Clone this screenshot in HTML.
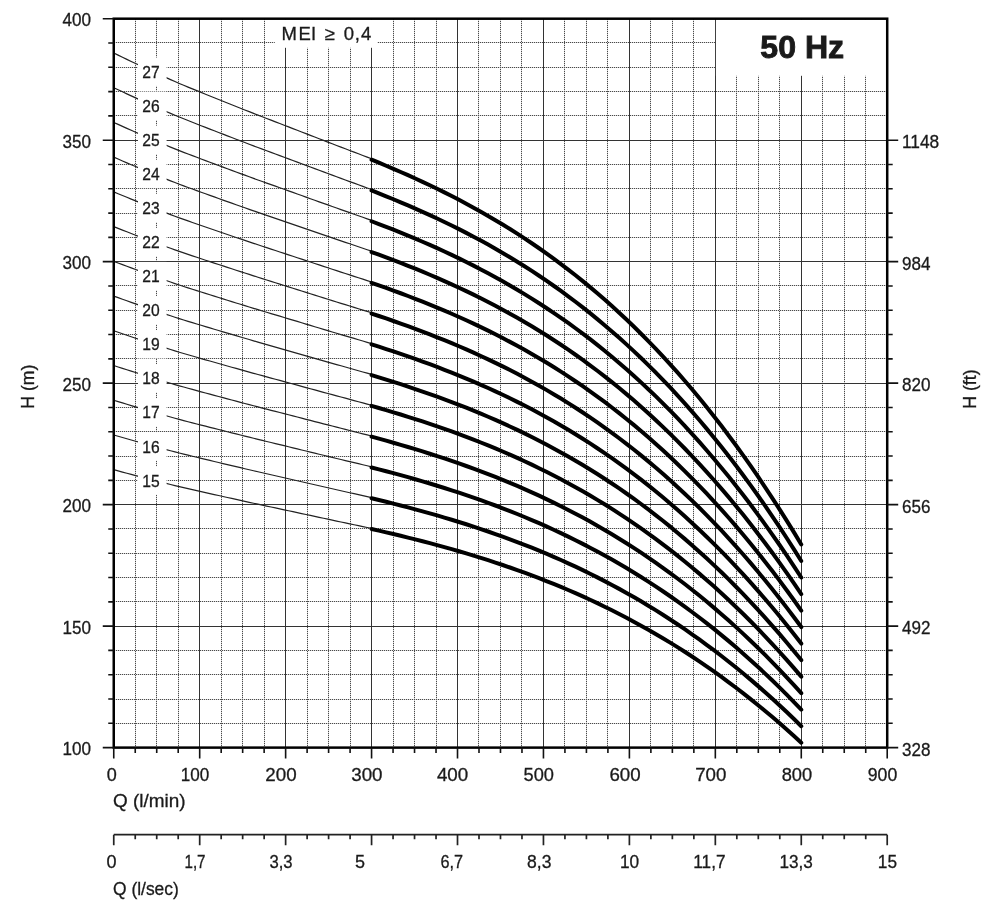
<!DOCTYPE html><html><head><meta charset="utf-8"><title>50 Hz pump curves</title>
<style>html,body{margin:0;padding:0;background:#fff;overflow:hidden}svg{display:block;will-change:transform}</style></head><body>
<svg width="997" height="905" viewBox="0 0 997 905" font-family="'Liberation Sans', Arial, sans-serif" fill="#1a1a1a">
<style>text{stroke:#1a1a1a;stroke-width:0.3px}</style>
<rect width="997" height="905" fill="#fff"/>
<path d="M135.50,19V747.61M156.50,19V747.61M178.50,19V747.61M221.50,19V747.61M242.50,19V747.61M264.50,19V747.61M307.50,19V747.61M328.50,19V747.61M350.50,19V747.61M393.50,19V747.61M414.50,19V747.61M436.50,19V747.61M478.50,19V747.61M500.50,19V747.61M521.50,19V747.61M564.50,19V747.61M586.50,19V747.61M607.50,19V747.61M650.50,19V747.61M672.50,19V747.61M693.50,19V747.61M736.50,19V747.61M758.50,19V747.61M779.50,19V747.61M822.50,19V747.61M844.50,19V747.61M865.50,19V747.61M114,723.50H887.21M114,699.50H887.21M114,674.50H887.21M114,650.50H887.21M114,601.50H887.21M114,577.50H887.21M114,553.50H887.21M114,528.50H887.21M114,480.50H887.21M114,456.50H887.21M114,431.50H887.21M114,407.50H887.21M114,358.50H887.21M114,334.50H887.21M114,310.50H887.21M114,285.50H887.21M114,237.50H887.21M114,213.50H887.21M114,188.50H887.21M114,164.50H887.21M114,115.50H887.21M114,91.50H887.21M114,67.50H887.21M114,42.50H887.21" stroke="#d6d6d6" stroke-width="1" fill="none"/>
<path d="M135.50,19V747.61M156.50,19V747.61M178.50,19V747.61M221.50,19V747.61M242.50,19V747.61M264.50,19V747.61M307.50,19V747.61M328.50,19V747.61M350.50,19V747.61M393.50,19V747.61M414.50,19V747.61M436.50,19V747.61M478.50,19V747.61M500.50,19V747.61M521.50,19V747.61M564.50,19V747.61M586.50,19V747.61M607.50,19V747.61M650.50,19V747.61M672.50,19V747.61M693.50,19V747.61M736.50,19V747.61M758.50,19V747.61M779.50,19V747.61M822.50,19V747.61M844.50,19V747.61M865.50,19V747.61M114,723.50H887.21M114,699.50H887.21M114,674.50H887.21M114,650.50H887.21M114,601.50H887.21M114,577.50H887.21M114,553.50H887.21M114,528.50H887.21M114,480.50H887.21M114,456.50H887.21M114,431.50H887.21M114,407.50H887.21M114,358.50H887.21M114,334.50H887.21M114,310.50H887.21M114,285.50H887.21M114,237.50H887.21M114,213.50H887.21M114,188.50H887.21M114,164.50H887.21M114,115.50H887.21M114,91.50H887.21M114,67.50H887.21M114,42.50H887.21" stroke="#4a4a4a" stroke-width="1" stroke-dasharray="1 1" fill="none"/>
<path d="M199.50,18.70V747.61M285.50,18.70V747.61M371.50,18.70V747.61M457.50,18.70V747.61M543.50,18.70V747.61M629.50,18.70V747.61M715.50,18.70V747.61M801.50,18.70V747.61M113.75,626.50H887.21M113.75,504.50H887.21M113.75,383.50H887.21M113.75,261.50H887.21M113.75,140.50H887.21" stroke="#333" stroke-width="1" fill="none"/>
<path d="M113.75,469.70 L118.12,470.89 L122.49,472.06 L126.86,473.23 L131.23,474.40 L135.60,475.55 L139.97,476.69 L144.34,477.83 L148.71,478.96 L153.08,480.08 L157.45,481.19 L161.82,482.30 L166.19,483.40 L170.56,484.49 L174.93,485.57 L179.30,486.61 L183.67,487.63 L188.04,488.64 L192.41,489.63 L196.78,490.62 L201.15,491.61 L205.52,492.59 L209.89,493.58 L214.26,494.56 L218.63,495.53 L223.00,496.51 L227.37,497.48 L231.74,498.45 L236.11,499.41 L240.48,500.38 L244.84,501.34 L249.21,502.30 L253.58,503.25 L257.95,504.20 L262.32,505.15 L266.69,506.09 L271.06,507.02 L275.43,507.95 L279.80,508.88 L284.17,509.81 L288.54,510.74 L292.91,511.68 L297.28,512.63 L301.65,513.57 L306.02,514.51 L310.39,515.45 L314.76,516.39 L319.13,517.33 L323.50,518.26 L327.87,519.20 L332.24,520.13 L336.61,521.06 L340.98,521.99 L345.35,522.91 L349.72,523.84 L354.09,524.77 L358.46,525.69 L362.83,526.61 L367.20,527.53 L371.57,528.45" stroke="#222" stroke-width="1.2" fill="none"/>
<path d="M113.75,434.98 L118.12,436.24 L122.49,437.50 L126.86,438.75 L131.23,439.98 L135.60,441.21 L139.97,442.43 L144.34,443.64 L148.71,444.85 L153.08,446.04 L157.45,447.23 L161.82,448.41 L166.19,449.58 L170.56,450.75 L174.93,451.90 L179.30,453.01 L183.67,454.10 L188.04,455.17 L192.41,456.23 L196.78,457.29 L201.15,458.34 L205.52,459.40 L209.89,460.44 L214.26,461.49 L218.63,462.53 L223.00,463.57 L227.37,464.60 L231.74,465.64 L236.11,466.67 L240.48,467.70 L244.84,468.72 L249.21,469.75 L253.58,470.77 L257.95,471.78 L262.32,472.79 L266.69,473.79 L271.06,474.78 L275.43,475.77 L279.80,476.76 L284.17,477.76 L288.54,478.75 L292.91,479.76 L297.28,480.76 L301.65,481.77 L306.02,482.77 L310.39,483.78 L314.76,484.78 L319.13,485.78 L323.50,486.78 L327.87,487.77 L332.24,488.76 L336.61,489.76 L340.98,490.75 L345.35,491.74 L349.72,492.73 L354.09,493.71 L358.46,494.70 L362.83,495.68 L367.20,496.66 L371.57,497.64" stroke="#222" stroke-width="1.2" fill="none"/>
<path d="M113.75,400.25 L118.12,401.59 L122.49,402.93 L126.86,404.26 L131.23,405.57 L135.60,406.88 L139.97,408.17 L144.34,409.46 L148.71,410.74 L153.08,412.01 L157.45,413.27 L161.82,414.53 L166.19,415.77 L170.56,417.01 L174.93,418.23 L179.30,419.42 L183.67,420.57 L188.04,421.71 L192.41,422.84 L196.78,423.96 L201.15,425.08 L205.52,426.20 L209.89,427.31 L214.26,428.42 L218.63,429.53 L223.00,430.63 L227.37,431.73 L231.74,432.83 L236.11,433.92 L240.48,435.02 L244.84,436.11 L249.21,437.19 L253.58,438.28 L257.95,439.35 L262.32,440.43 L266.69,441.49 L271.06,442.54 L275.43,443.60 L279.80,444.65 L284.17,445.70 L288.54,446.77 L292.91,447.83 L297.28,448.90 L301.65,449.97 L306.02,451.04 L310.39,452.10 L314.76,453.17 L319.13,454.23 L323.50,455.29 L327.87,456.35 L332.24,457.40 L336.61,458.46 L340.98,459.51 L345.35,460.56 L349.72,461.61 L354.09,462.66 L358.46,463.70 L362.83,464.75 L367.20,465.79 L371.57,466.83" stroke="#222" stroke-width="1.2" fill="none"/>
<path d="M113.75,365.53 L118.12,366.95 L122.49,368.36 L126.86,369.77 L131.23,371.16 L135.60,372.54 L139.97,373.91 L144.34,375.28 L148.71,376.63 L153.08,377.98 L157.45,379.31 L161.82,380.64 L166.19,381.96 L170.56,383.27 L174.93,384.56 L179.30,385.82 L183.67,387.04 L188.04,388.25 L192.41,389.44 L196.78,390.62 L201.15,391.81 L205.52,393.00 L209.89,394.18 L214.26,395.35 L218.63,396.52 L223.00,397.69 L227.37,398.86 L231.74,400.02 L236.11,401.18 L240.48,402.34 L244.84,403.49 L249.21,404.64 L253.58,405.79 L257.95,406.93 L262.32,408.06 L266.69,409.19 L271.06,410.31 L275.43,411.42 L279.80,412.53 L284.17,413.65 L288.54,414.78 L292.91,415.90 L297.28,417.04 L301.65,418.17 L306.02,419.30 L310.39,420.43 L314.76,421.56 L319.13,422.68 L323.50,423.80 L327.87,424.92 L332.24,426.04 L336.61,427.15 L340.98,428.27 L345.35,429.38 L349.72,430.49 L354.09,431.60 L358.46,432.71 L362.83,433.82 L367.20,434.92 L371.57,436.03" stroke="#222" stroke-width="1.2" fill="none"/>
<path d="M113.75,330.80 L118.12,332.30 L122.49,333.79 L126.86,335.28 L131.23,336.75 L135.60,338.21 L139.97,339.66 L144.34,341.09 L148.71,342.52 L153.08,343.94 L157.45,345.35 L161.82,346.76 L166.19,348.15 L170.56,349.53 L174.93,350.89 L179.30,352.22 L183.67,353.51 L188.04,354.79 L192.41,356.04 L196.78,357.29 L201.15,358.55 L205.52,359.80 L209.89,361.04 L214.26,362.28 L218.63,363.52 L223.00,364.75 L227.37,365.98 L231.74,367.21 L236.11,368.44 L240.48,369.66 L244.84,370.88 L249.21,372.09 L253.58,373.30 L257.95,374.50 L262.32,375.70 L266.69,376.89 L271.06,378.07 L275.43,379.24 L279.80,380.42 L284.17,381.60 L288.54,382.79 L292.91,383.98 L297.28,385.17 L301.65,386.37 L306.02,387.56 L310.39,388.75 L314.76,389.94 L319.13,391.13 L323.50,392.31 L327.87,393.49 L332.24,394.67 L336.61,395.85 L340.98,397.03 L345.35,398.20 L349.72,399.38 L354.09,400.55 L358.46,401.72 L362.83,402.89 L367.20,404.05 L371.57,405.22" stroke="#222" stroke-width="1.2" fill="none"/>
<path d="M113.75,296.07 L118.12,297.66 L122.49,299.23 L126.86,300.79 L131.23,302.33 L135.60,303.87 L139.97,305.40 L144.34,306.91 L148.71,308.42 L153.08,309.91 L157.45,311.40 L161.82,312.87 L166.19,314.34 L170.56,315.79 L174.93,317.23 L179.30,318.62 L183.67,319.98 L188.04,321.32 L192.41,322.65 L196.78,323.96 L201.15,325.28 L205.52,326.60 L209.89,327.91 L214.26,329.22 L218.63,330.52 L223.00,331.81 L227.37,333.11 L231.74,334.40 L236.11,335.69 L240.48,336.98 L244.84,338.26 L249.21,339.54 L253.58,340.81 L257.95,342.08 L262.32,343.34 L266.69,344.59 L271.06,345.83 L275.43,347.07 L279.80,348.31 L284.17,349.55 L288.54,350.80 L292.91,352.05 L297.28,353.31 L301.65,354.57 L306.02,355.82 L310.39,357.08 L314.76,358.33 L319.13,359.58 L323.50,360.83 L327.87,362.07 L332.24,363.31 L336.61,364.55 L340.98,365.79 L345.35,367.03 L349.72,368.26 L354.09,369.49 L358.46,370.73 L362.83,371.96 L367.20,373.18 L371.57,374.41" stroke="#222" stroke-width="1.2" fill="none"/>
<path d="M113.75,261.35 L118.12,263.01 L122.49,264.66 L126.86,266.30 L131.23,267.92 L135.60,269.54 L139.97,271.14 L144.34,272.73 L148.71,274.31 L153.08,275.88 L157.45,277.44 L161.82,278.99 L166.19,280.52 L170.56,282.05 L174.93,283.56 L179.30,285.03 L183.67,286.46 L188.04,287.86 L192.41,289.25 L196.78,290.63 L201.15,292.02 L205.52,293.40 L209.89,294.78 L214.26,296.15 L218.63,297.51 L223.00,298.88 L227.37,300.24 L231.74,301.59 L236.11,302.95 L240.48,304.30 L244.84,305.64 L249.21,306.99 L253.58,308.32 L257.95,309.65 L262.32,310.98 L266.69,312.29 L271.06,313.59 L275.43,314.89 L279.80,316.19 L284.17,317.50 L288.54,318.81 L292.91,320.13 L297.28,321.44 L301.65,322.76 L306.02,324.08 L310.39,325.40 L314.76,326.72 L319.13,328.03 L323.50,329.34 L327.87,330.64 L332.24,331.95 L336.61,333.25 L340.98,334.55 L345.35,335.85 L349.72,337.15 L354.09,338.44 L358.46,339.73 L362.83,341.02 L367.20,342.31 L371.57,343.60" stroke="#222" stroke-width="1.2" fill="none"/>
<path d="M113.75,226.62 L118.12,228.36 L122.49,230.09 L126.86,231.81 L131.23,233.51 L135.60,235.20 L139.97,236.88 L144.34,238.54 L148.71,240.20 L153.08,241.84 L157.45,243.48 L161.82,245.10 L166.19,246.71 L170.56,248.31 L174.93,249.89 L179.30,251.43 L183.67,252.93 L188.04,254.40 L192.41,255.85 L196.78,257.30 L201.15,258.75 L205.52,260.20 L209.89,261.64 L214.26,263.08 L218.63,264.51 L223.00,265.94 L227.37,267.36 L231.74,268.78 L236.11,270.20 L240.48,271.62 L244.84,273.03 L249.21,274.43 L253.58,275.83 L257.95,277.23 L262.32,278.62 L266.69,279.99 L271.06,281.36 L275.43,282.72 L279.80,284.08 L284.17,285.45 L288.54,286.82 L292.91,288.20 L297.28,289.58 L301.65,290.96 L306.02,292.35 L310.39,293.73 L314.76,295.11 L319.13,296.48 L323.50,297.85 L327.87,299.22 L332.24,300.58 L336.61,301.95 L340.98,303.31 L345.35,304.67 L349.72,306.03 L354.09,307.39 L358.46,308.74 L362.83,310.09 L367.20,311.44 L371.57,312.79" stroke="#222" stroke-width="1.2" fill="none"/>
<path d="M113.75,191.90 L118.12,193.72 L122.49,195.52 L126.86,197.32 L131.23,199.10 L135.60,200.87 L139.97,202.62 L144.34,204.36 L148.71,206.09 L153.08,207.81 L157.45,209.52 L161.82,211.21 L166.19,212.90 L170.56,214.57 L174.93,216.22 L179.30,217.83 L183.67,219.40 L188.04,220.93 L192.41,222.45 L196.78,223.97 L201.15,225.49 L205.52,227.00 L209.89,228.51 L214.26,230.01 L218.63,231.51 L223.00,233.00 L227.37,234.49 L231.74,235.97 L236.11,237.46 L240.48,238.94 L244.84,240.41 L249.21,241.88 L253.58,243.35 L257.95,244.80 L262.32,246.25 L266.69,247.69 L271.06,249.12 L275.43,250.54 L279.80,251.97 L284.17,253.40 L288.54,254.83 L292.91,256.27 L297.28,257.72 L301.65,259.16 L306.02,260.61 L310.39,262.05 L314.76,263.49 L319.13,264.93 L323.50,266.36 L327.87,267.79 L332.24,269.22 L336.61,270.65 L340.98,272.07 L345.35,273.49 L349.72,274.91 L354.09,276.33 L358.46,277.75 L362.83,279.16 L367.20,280.57 L371.57,281.98" stroke="#222" stroke-width="1.2" fill="none"/>
<path d="M113.75,157.17 L118.12,159.07 L122.49,160.96 L126.86,162.83 L131.23,164.69 L135.60,166.53 L139.97,168.36 L144.34,170.18 L148.71,171.98 L153.08,173.78 L157.45,175.56 L161.82,177.33 L166.19,179.09 L170.56,180.83 L174.93,182.56 L179.30,184.23 L183.67,185.87 L188.04,187.47 L192.41,189.06 L196.78,190.64 L201.15,192.22 L205.52,193.80 L209.89,195.38 L214.26,196.94 L218.63,198.50 L223.00,200.06 L227.37,201.61 L231.74,203.17 L236.11,204.71 L240.48,206.26 L244.84,207.80 L249.21,209.33 L253.58,210.86 L257.95,212.38 L262.32,213.89 L266.69,215.39 L271.06,216.88 L275.43,218.37 L279.80,219.85 L284.17,221.34 L288.54,222.84 L292.91,224.35 L297.28,225.85 L301.65,227.36 L306.02,228.87 L310.39,230.38 L314.76,231.88 L319.13,233.38 L323.50,234.87 L327.87,236.37 L332.24,237.86 L336.61,239.35 L340.98,240.83 L345.35,242.32 L349.72,243.80 L354.09,245.28 L358.46,246.76 L362.83,248.23 L367.20,249.70 L371.57,251.17" stroke="#222" stroke-width="1.2" fill="none"/>
<path d="M113.75,122.45 L118.12,124.42 L122.49,126.39 L126.86,128.34 L131.23,130.27 L135.60,132.19 L139.97,134.10 L144.34,135.99 L148.71,137.87 L153.08,139.74 L157.45,141.60 L161.82,143.44 L166.19,145.27 L170.56,147.09 L174.93,148.89 L179.30,150.63 L183.67,152.34 L188.04,154.01 L192.41,155.66 L196.78,157.31 L201.15,158.96 L205.52,160.60 L209.89,162.24 L214.26,163.87 L218.63,165.50 L223.00,167.12 L227.37,168.74 L231.74,170.36 L236.11,171.97 L240.48,173.58 L244.84,175.18 L249.21,176.78 L253.58,178.37 L257.95,179.95 L262.32,181.53 L266.69,183.09 L271.06,184.64 L275.43,186.19 L279.80,187.74 L284.17,189.29 L288.54,190.85 L292.91,192.42 L297.28,193.99 L301.65,195.56 L306.02,197.13 L310.39,198.70 L314.76,200.27 L319.13,201.83 L323.50,203.39 L327.87,204.94 L332.24,206.49 L336.61,208.04 L340.98,209.59 L345.35,211.14 L349.72,212.68 L354.09,214.22 L358.46,215.76 L362.83,217.30 L367.20,218.83 L371.57,220.37" stroke="#222" stroke-width="1.2" fill="none"/>
<path d="M113.75,87.72 L118.12,89.78 L122.49,91.82 L126.86,93.85 L131.23,95.86 L135.60,97.86 L139.97,99.84 L144.34,101.81 L148.71,103.77 L153.08,105.71 L157.45,107.64 L161.82,109.56 L166.19,111.46 L170.56,113.35 L174.93,115.22 L179.30,117.04 L183.67,118.81 L188.04,120.54 L192.41,122.26 L196.78,123.98 L201.15,125.69 L205.52,127.41 L209.89,129.11 L214.26,130.81 L218.63,132.50 L223.00,134.18 L227.37,135.87 L231.74,137.55 L236.11,139.22 L240.48,140.90 L244.84,142.56 L249.21,144.23 L253.58,145.88 L257.95,147.53 L262.32,149.17 L266.69,150.79 L271.06,152.41 L275.43,154.02 L279.80,155.63 L284.17,157.24 L288.54,158.86 L292.91,160.49 L297.28,162.13 L301.65,163.76 L306.02,165.40 L310.39,167.03 L314.76,168.66 L319.13,170.28 L323.50,171.90 L327.87,173.52 L332.24,175.13 L336.61,176.74 L340.98,178.35 L345.35,179.96 L349.72,181.57 L354.09,183.17 L358.46,184.77 L362.83,186.37 L367.20,187.96 L371.57,189.56" stroke="#222" stroke-width="1.2" fill="none"/>
<path d="M113.75,53.00 L118.12,55.13 L122.49,57.25 L126.86,59.36 L131.23,61.45 L135.60,63.52 L139.97,65.58 L144.34,67.63 L148.71,69.66 L153.08,71.68 L157.45,73.68 L161.82,75.67 L166.19,77.65 L170.56,79.62 L174.93,81.55 L179.30,83.44 L183.67,85.28 L188.04,87.08 L192.41,88.87 L196.78,90.65 L201.15,92.43 L205.52,94.21 L209.89,95.98 L214.26,97.74 L218.63,99.49 L223.00,101.25 L227.37,102.99 L231.74,104.74 L236.11,106.48 L240.48,108.22 L244.84,109.95 L249.21,111.67 L253.58,113.39 L257.95,115.10 L262.32,116.81 L266.69,118.49 L271.06,120.17 L275.43,121.84 L279.80,123.51 L284.17,125.19 L288.54,126.88 L292.91,128.57 L297.28,130.26 L301.65,131.96 L306.02,133.66 L310.39,135.35 L314.76,137.04 L319.13,138.73 L323.50,140.41 L327.87,142.09 L332.24,143.77 L336.61,145.44 L340.98,147.11 L345.35,148.78 L349.72,150.45 L354.09,152.11 L358.46,153.78 L362.83,155.44 L367.20,157.09 L371.57,158.75" stroke="#222" stroke-width="1.2" fill="none"/>
<path d="M371.57,528.98 L378.85,530.64 L386.14,532.33 L393.42,534.05 L400.70,535.80 L407.99,537.59 L415.27,539.42 L422.55,541.28 L429.83,543.19 L437.12,545.14 L444.40,547.14 L451.68,549.19 L458.97,551.28 L466.25,553.43 L473.53,555.63 L480.82,557.88 L488.10,560.20 L495.38,562.57 L502.66,565.00 L509.95,567.50 L517.23,570.06 L524.51,572.70 L531.80,575.40 L539.08,578.17 L546.36,581.02 L553.65,583.94 L560.93,586.94 L568.21,590.02 L575.50,593.18 L582.78,596.43 L590.06,599.76 L597.34,603.18 L604.63,606.69 L611.91,610.29 L619.19,613.98 L626.48,617.77 L633.76,621.66 L641.04,625.65 L648.33,629.74 L655.61,633.94 L662.89,638.24 L670.18,642.64 L677.46,647.16 L684.74,651.79 L692.02,656.54 L699.31,661.39 L706.59,666.37 L713.87,671.47 L721.16,676.69 L728.44,682.03 L735.72,687.50 L743.01,693.10 L750.29,698.83 L757.57,704.69 L764.85,710.68 L772.14,716.81 L779.42,723.08 L786.70,729.48 L793.99,736.03 L801.27,742.73" stroke="#000" stroke-width="4" stroke-linecap="round" fill="none"/>
<path d="M371.57,498.21 L378.85,499.98 L386.14,501.78 L393.42,503.61 L400.70,505.48 L407.99,507.39 L415.27,509.34 L422.55,511.33 L429.83,513.37 L437.12,515.45 L444.40,517.58 L451.68,519.76 L458.97,521.99 L466.25,524.28 L473.53,526.63 L480.82,529.04 L488.10,531.50 L495.38,534.03 L502.66,536.63 L509.95,539.30 L517.23,542.03 L524.51,544.84 L531.80,547.72 L539.08,550.68 L546.36,553.71 L553.65,556.83 L560.93,560.03 L568.21,563.32 L575.50,566.69 L582.78,570.15 L590.06,573.71 L597.34,577.35 L604.63,581.10 L611.91,584.94 L619.19,588.88 L626.48,592.92 L633.76,597.07 L641.04,601.32 L648.33,605.69 L655.61,610.16 L662.89,614.75 L670.18,619.45 L677.46,624.27 L684.74,629.21 L692.02,634.27 L699.31,639.45 L706.59,644.76 L713.87,650.20 L721.16,655.76 L728.44,661.46 L735.72,667.30 L743.01,673.27 L750.29,679.38 L757.57,685.63 L764.85,692.02 L772.14,698.56 L779.42,705.24 L786.70,712.08 L793.99,719.06 L801.27,726.20" stroke="#000" stroke-width="4" stroke-linecap="round" fill="none"/>
<path d="M371.57,467.44 L378.85,469.32 L386.14,471.23 L393.42,473.18 L400.70,475.17 L407.99,477.19 L415.27,479.26 L422.55,481.38 L429.83,483.54 L437.12,485.75 L444.40,488.02 L451.68,490.33 L458.97,492.71 L466.25,495.14 L473.53,497.63 L480.82,500.19 L488.10,502.81 L495.38,505.50 L502.66,508.26 L509.95,511.09 L517.23,514.00 L524.51,516.98 L531.80,520.04 L539.08,523.18 L546.36,526.41 L553.65,529.72 L560.93,533.12 L568.21,536.61 L575.50,540.20 L582.78,543.87 L590.06,547.65 L597.34,551.53 L604.63,555.50 L611.91,559.58 L619.19,563.77 L626.48,568.07 L633.76,572.47 L641.04,576.99 L648.33,581.63 L655.61,586.38 L662.89,591.26 L670.18,596.25 L677.46,601.37 L684.74,606.62 L692.02,612.00 L699.31,617.50 L706.59,623.14 L713.87,628.92 L721.16,634.84 L728.44,640.89 L735.72,647.09 L743.01,653.44 L750.29,659.93 L757.57,666.57 L764.85,673.36 L772.14,680.31 L779.42,687.41 L786.70,694.67 L793.99,702.09 L801.27,709.68" stroke="#000" stroke-width="4" stroke-linecap="round" fill="none"/>
<path d="M371.57,436.66 L378.85,438.65 L386.14,440.68 L393.42,442.74 L400.70,444.85 L407.99,446.99 L415.27,449.19 L422.55,451.43 L429.83,453.72 L437.12,456.06 L444.40,458.45 L451.68,460.91 L458.97,463.42 L466.25,466.00 L473.53,468.64 L480.82,471.34 L488.10,474.12 L495.38,476.97 L502.66,479.89 L509.95,482.88 L517.23,485.96 L524.51,489.12 L531.80,492.36 L539.08,495.69 L546.36,499.11 L553.65,502.61 L560.93,506.21 L568.21,509.91 L575.50,513.70 L582.78,517.60 L590.06,521.60 L597.34,525.70 L604.63,529.91 L611.91,534.23 L619.19,538.67 L626.48,543.21 L633.76,547.88 L641.04,552.67 L648.33,557.57 L655.61,562.61 L662.89,567.77 L670.18,573.06 L677.46,578.48 L684.74,584.03 L692.02,589.73 L699.31,595.56 L706.59,601.53 L713.87,607.65 L721.16,613.91 L728.44,620.32 L735.72,626.89 L743.01,633.60 L750.29,640.48 L757.57,647.51 L764.85,654.70 L772.14,662.05 L779.42,669.58 L786.70,677.26 L793.99,685.12 L801.27,693.16" stroke="#000" stroke-width="4" stroke-linecap="round" fill="none"/>
<path d="M371.57,405.89 L378.85,407.99 L386.14,410.13 L393.42,412.31 L400.70,414.53 L407.99,416.80 L415.27,419.11 L422.55,421.47 L429.83,423.89 L437.12,426.36 L444.40,428.89 L451.68,431.48 L458.97,434.13 L466.25,436.85 L473.53,439.64 L480.82,442.50 L488.10,445.43 L495.38,448.43 L502.66,451.52 L509.95,454.68 L517.23,457.93 L524.51,461.26 L531.80,464.68 L539.08,468.20 L546.36,471.80 L553.65,475.50 L560.93,479.30 L568.21,483.20 L575.50,487.21 L582.78,491.32 L590.06,495.54 L597.34,499.87 L604.63,504.32 L611.91,508.88 L619.19,513.56 L626.48,518.36 L633.76,523.29 L641.04,528.34 L648.33,533.52 L655.61,538.83 L662.89,544.28 L670.18,549.86 L677.46,555.58 L684.74,561.45 L692.02,567.46 L699.31,573.61 L706.59,579.92 L713.87,586.37 L721.16,592.99 L728.44,599.75 L735.72,606.68 L743.01,613.77 L750.29,621.03 L757.57,628.45 L764.85,636.04 L772.14,643.80 L779.42,651.74 L786.70,659.86 L793.99,668.15 L801.27,676.63" stroke="#000" stroke-width="4" stroke-linecap="round" fill="none"/>
<path d="M371.57,375.12 L378.85,377.33 L386.14,379.58 L393.42,381.87 L400.70,384.21 L407.99,386.60 L415.27,389.03 L422.55,391.52 L429.83,394.06 L437.12,396.67 L444.40,399.33 L451.68,402.06 L458.97,404.85 L466.25,407.71 L473.53,410.64 L480.82,413.65 L488.10,416.73 L495.38,419.90 L502.66,423.14 L509.95,426.47 L517.23,429.89 L524.51,433.40 L531.80,437.00 L539.08,440.70 L546.36,444.50 L553.65,448.39 L560.93,452.39 L568.21,456.50 L575.50,460.72 L582.78,465.04 L590.06,469.49 L597.34,474.05 L604.63,478.72 L611.91,483.53 L619.19,488.45 L626.48,493.51 L633.76,498.69 L641.04,504.01 L648.33,509.46 L655.61,515.05 L662.89,520.79 L670.18,526.67 L677.46,532.69 L684.74,538.86 L692.02,545.19 L699.31,551.67 L706.59,558.30 L713.87,565.10 L721.16,572.06 L728.44,579.18 L735.72,586.48 L743.01,593.94 L750.29,601.58 L757.57,609.39 L764.85,617.38 L772.14,625.55 L779.42,633.91 L786.70,642.45 L793.99,651.18 L801.27,660.11" stroke="#000" stroke-width="4" stroke-linecap="round" fill="none"/>
<path d="M371.57,344.34 L378.85,346.67 L386.14,349.03 L393.42,351.44 L400.70,353.89 L407.99,356.40 L415.27,358.95 L422.55,361.57 L429.83,364.24 L437.12,366.97 L444.40,369.77 L451.68,372.63 L458.97,375.56 L466.25,378.57 L473.53,381.65 L480.82,384.80 L488.10,388.04 L495.38,391.36 L502.66,394.77 L509.95,398.27 L517.23,401.86 L524.51,405.54 L531.80,409.32 L539.08,413.21 L546.36,417.19 L553.65,421.28 L560.93,425.48 L568.21,429.80 L575.50,434.22 L582.78,438.77 L590.06,443.43 L597.34,448.22 L604.63,453.13 L611.91,458.17 L619.19,463.35 L626.48,468.65 L633.76,474.10 L641.04,479.68 L648.33,485.41 L655.61,491.28 L662.89,497.30 L670.18,503.47 L677.46,509.79 L684.74,516.28 L692.02,522.92 L699.31,529.72 L706.59,536.69 L713.87,543.83 L721.16,551.13 L728.44,558.61 L735.72,566.27 L743.01,574.11 L750.29,582.13 L757.57,590.33 L764.85,598.72 L772.14,607.30 L779.42,616.07 L786.70,625.05 L793.99,634.21 L801.27,643.59" stroke="#000" stroke-width="4" stroke-linecap="round" fill="none"/>
<path d="M371.57,313.57 L378.85,316.00 L386.14,318.48 L393.42,321.00 L400.70,323.57 L407.99,326.20 L415.27,328.88 L422.55,331.61 L429.83,334.41 L437.12,337.27 L444.40,340.20 L451.68,343.20 L458.97,346.27 L466.25,349.42 L473.53,352.65 L480.82,355.96 L488.10,359.35 L495.38,362.83 L502.66,366.40 L509.95,370.06 L517.23,373.82 L524.51,377.68 L531.80,381.65 L539.08,385.71 L546.36,389.89 L553.65,394.18 L560.93,398.58 L568.21,403.09 L575.50,407.73 L582.78,412.49 L590.06,417.38 L597.34,422.39 L604.63,427.54 L611.91,432.82 L619.19,438.24 L626.48,443.80 L633.76,449.50 L641.04,455.35 L648.33,461.35 L655.61,467.50 L662.89,473.81 L670.18,480.27 L677.46,486.90 L684.74,493.69 L692.02,500.65 L699.31,507.78 L706.59,515.08 L713.87,522.55 L721.16,530.21 L728.44,538.04 L735.72,546.07 L743.01,554.28 L750.29,562.68 L757.57,571.27 L764.85,580.06 L772.14,589.05 L779.42,598.24 L786.70,607.64 L793.99,617.25 L801.27,627.06" stroke="#000" stroke-width="4" stroke-linecap="round" fill="none"/>
<path d="M371.57,282.80 L378.85,285.34 L386.14,287.93 L393.42,290.57 L400.70,293.25 L407.99,296.00 L415.27,298.80 L422.55,301.66 L429.83,304.59 L437.12,307.58 L444.40,310.64 L451.68,313.78 L458.97,316.99 L466.25,320.28 L473.53,323.65 L480.82,327.11 L488.10,330.66 L495.38,334.30 L502.66,338.03 L509.95,341.86 L517.23,345.79 L524.51,349.83 L531.80,353.97 L539.08,358.22 L546.36,362.58 L553.65,367.07 L560.93,371.67 L568.21,376.39 L575.50,381.24 L582.78,386.21 L590.06,391.32 L597.34,396.57 L604.63,401.95 L611.91,407.47 L619.19,413.13 L626.48,418.95 L633.76,424.91 L641.04,431.02 L648.33,437.29 L655.61,443.73 L662.89,450.32 L670.18,457.08 L677.46,464.01 L684.74,471.10 L692.02,478.38 L699.31,485.83 L706.59,493.46 L713.87,501.28 L721.16,509.28 L728.44,517.47 L735.72,525.86 L743.01,534.44 L750.29,543.23 L757.57,552.21 L764.85,561.40 L772.14,570.80 L779.42,580.41 L786.70,590.23 L793.99,600.28 L801.27,610.54" stroke="#000" stroke-width="4" stroke-linecap="round" fill="none"/>
<path d="M371.57,252.02 L378.85,254.68 L386.14,257.38 L393.42,260.13 L400.70,262.94 L407.99,265.80 L415.27,268.72 L422.55,271.71 L429.83,274.76 L437.12,277.88 L444.40,281.08 L451.68,284.35 L458.97,287.70 L466.25,291.14 L473.53,294.65 L480.82,298.26 L488.10,301.96 L495.38,305.76 L502.66,309.66 L509.95,313.65 L517.23,317.76 L524.51,321.97 L531.80,326.29 L539.08,330.73 L546.36,335.28 L553.65,339.96 L560.93,344.76 L568.21,349.69 L575.50,354.74 L582.78,359.94 L590.06,365.27 L597.34,370.74 L604.63,376.35 L611.91,382.11 L619.19,388.03 L626.48,394.09 L633.76,400.31 L641.04,406.69 L648.33,413.24 L655.61,419.95 L662.89,426.83 L670.18,433.88 L677.46,441.11 L684.74,448.52 L692.02,456.11 L699.31,463.88 L706.59,471.85 L713.87,480.00 L721.16,488.35 L728.44,496.90 L735.72,505.66 L743.01,514.61 L750.29,523.77 L757.57,533.15 L764.85,542.74 L772.14,552.55 L779.42,562.57 L786.70,572.83 L793.99,583.31 L801.27,594.02" stroke="#000" stroke-width="4" stroke-linecap="round" fill="none"/>
<path d="M371.57,221.25 L378.85,224.01 L386.14,226.83 L393.42,229.70 L400.70,232.62 L407.99,235.60 L415.27,238.64 L422.55,241.75 L429.83,244.93 L437.12,248.19 L444.40,251.52 L451.68,254.92 L458.97,258.41 L466.25,261.99 L473.53,265.66 L480.82,269.42 L488.10,273.27 L495.38,277.23 L502.66,281.28 L509.95,285.45 L517.23,289.72 L524.51,294.11 L531.80,298.61 L539.08,303.23 L546.36,307.98 L553.65,312.85 L560.93,317.85 L568.21,322.98 L575.50,328.25 L582.78,333.66 L590.06,339.21 L597.34,344.91 L604.63,350.76 L611.91,356.76 L619.19,362.92 L626.48,369.24 L633.76,375.72 L641.04,382.37 L648.33,389.18 L655.61,396.17 L662.89,403.34 L670.18,410.69 L677.46,418.22 L684.74,425.93 L692.02,433.84 L699.31,441.94 L706.59,450.23 L713.87,458.73 L721.16,467.43 L728.44,476.33 L735.72,485.45 L743.01,494.78 L750.29,504.32 L757.57,514.09 L764.85,524.08 L772.14,534.29 L779.42,544.74 L786.70,555.42 L793.99,566.34 L801.27,577.49" stroke="#000" stroke-width="4" stroke-linecap="round" fill="none"/>
<path d="M371.57,190.48 L378.85,193.35 L386.14,196.28 L393.42,199.26 L400.70,202.30 L407.99,205.40 L415.27,208.57 L422.55,211.80 L429.83,215.11 L437.12,218.49 L444.40,221.95 L451.68,225.50 L458.97,229.13 L466.25,232.85 L473.53,236.66 L480.82,240.57 L488.10,244.58 L495.38,248.69 L502.66,252.91 L509.95,257.24 L517.23,261.69 L524.51,266.25 L531.80,270.93 L539.08,275.74 L546.36,280.67 L553.65,285.74 L560.93,290.94 L568.21,296.28 L575.50,301.76 L582.78,307.38 L590.06,313.16 L597.34,319.09 L604.63,325.17 L611.91,331.41 L619.19,337.81 L626.48,344.38 L633.76,351.12 L641.04,358.04 L648.33,365.13 L655.61,372.40 L662.89,379.85 L670.18,387.49 L677.46,395.32 L684.74,403.35 L692.02,411.57 L699.31,419.99 L706.59,428.62 L713.87,437.46 L721.16,446.50 L728.44,455.76 L735.72,465.24 L743.01,474.95 L750.29,484.87 L757.57,495.03 L764.85,505.42 L772.14,516.04 L779.42,526.91 L786.70,538.01 L793.99,549.37 L801.27,560.97" stroke="#000" stroke-width="4" stroke-linecap="round" fill="none"/>
<path d="M371.57,159.70 L378.85,162.69 L386.14,165.73 L393.42,168.82 L400.70,171.98 L407.99,175.20 L415.27,178.49 L422.55,181.85 L429.83,185.28 L437.12,188.80 L444.40,192.39 L451.68,196.07 L458.97,199.84 L466.25,203.70 L473.53,207.66 L480.82,211.72 L488.10,215.89 L495.38,220.16 L502.66,224.54 L509.95,229.04 L517.23,233.65 L524.51,238.39 L531.80,243.25 L539.08,248.24 L546.36,253.37 L553.65,258.63 L560.93,264.03 L568.21,269.57 L575.50,275.26 L582.78,281.11 L590.06,287.10 L597.34,293.26 L604.63,299.58 L611.91,306.06 L619.19,312.71 L626.48,319.53 L633.76,326.53 L641.04,333.71 L648.33,341.07 L655.61,348.62 L662.89,356.36 L670.18,364.30 L677.46,372.43 L684.74,380.76 L692.02,389.30 L699.31,398.05 L706.59,407.01 L713.87,416.18 L721.16,425.58 L728.44,435.19 L735.72,445.04 L743.01,455.11 L750.29,465.42 L757.57,475.97 L764.85,486.76 L772.14,497.79 L779.42,509.07 L786.70,520.61 L793.99,532.40 L801.27,544.44" stroke="#000" stroke-width="4" stroke-linecap="round" fill="none"/>
<rect x="138" y="57.55" width="28.6" height="28.4" fill="#fff"/>
<text x="151.0" y="77.85" font-size="17" text-anchor="middle" textLength="17.4" lengthAdjust="spacingAndGlyphs">27</text>
<rect x="138" y="91.61" width="28.6" height="28.4" fill="#fff"/>
<text x="151.0" y="111.91" font-size="17" text-anchor="middle" textLength="17.4" lengthAdjust="spacingAndGlyphs">26</text>
<rect x="138" y="125.67" width="28.6" height="28.4" fill="#fff"/>
<text x="151.0" y="145.97" font-size="17" text-anchor="middle" textLength="17.4" lengthAdjust="spacingAndGlyphs">25</text>
<rect x="138" y="159.73" width="28.6" height="28.4" fill="#fff"/>
<text x="151.0" y="180.03" font-size="17" text-anchor="middle" textLength="17.4" lengthAdjust="spacingAndGlyphs">24</text>
<rect x="138" y="193.79" width="28.6" height="28.4" fill="#fff"/>
<text x="151.0" y="214.09" font-size="17" text-anchor="middle" textLength="17.4" lengthAdjust="spacingAndGlyphs">23</text>
<rect x="138" y="227.85" width="28.6" height="28.4" fill="#fff"/>
<text x="151.0" y="248.15" font-size="17" text-anchor="middle" textLength="17.4" lengthAdjust="spacingAndGlyphs">22</text>
<rect x="138" y="261.91" width="28.6" height="28.4" fill="#fff"/>
<text x="151.0" y="282.21" font-size="17" text-anchor="middle" textLength="17.4" lengthAdjust="spacingAndGlyphs">21</text>
<rect x="138" y="295.97" width="28.6" height="28.4" fill="#fff"/>
<text x="151.0" y="316.27" font-size="17" text-anchor="middle" textLength="17.4" lengthAdjust="spacingAndGlyphs">20</text>
<rect x="138" y="330.03" width="28.6" height="28.4" fill="#fff"/>
<text x="151.0" y="350.33" font-size="17" text-anchor="middle" textLength="17.4" lengthAdjust="spacingAndGlyphs">19</text>
<rect x="138" y="364.09" width="28.6" height="28.4" fill="#fff"/>
<text x="151.0" y="384.39" font-size="17" text-anchor="middle" textLength="17.4" lengthAdjust="spacingAndGlyphs">18</text>
<rect x="138" y="398.15" width="28.6" height="28.4" fill="#fff"/>
<text x="151.0" y="418.45" font-size="17" text-anchor="middle" textLength="17.4" lengthAdjust="spacingAndGlyphs">17</text>
<rect x="138" y="432.21" width="28.6" height="28.4" fill="#fff"/>
<text x="151.0" y="452.51" font-size="17" text-anchor="middle" textLength="17.4" lengthAdjust="spacingAndGlyphs">16</text>
<rect x="138" y="466.27" width="28.6" height="28.4" fill="#fff"/>
<text x="151.0" y="486.57" font-size="17" text-anchor="middle" textLength="17.4" lengthAdjust="spacingAndGlyphs">15</text>
<rect x="274.8" y="19.5" width="102.3" height="28.3" fill="#fff"/>
<text x="281.5 298.5 310.9 318 324.4 336 343.8 354.7 361.1" y="39.7" font-size="18.5">MEI ≥ 0,4</text>
<rect x="715.93" y="19.5" width="170.68" height="56.3" fill="#fff"/>
<text x="760.3" y="57.6" font-size="32" font-weight="bold" style="stroke-width:0.9px" textLength="83.8" lengthAdjust="spacingAndGlyphs">50 Hz</text>
<rect x="113.75" y="18.70" width="773.46" height="728.91" stroke="#000" stroke-width="2.5" fill="none"/>
<path d="M102.75,747.61H113.75M108.25,723.31H113.75M108.25,699.02H113.75M108.25,674.72H113.75M108.25,650.42H113.75M102.75,626.12H113.75M108.25,601.83H113.75M108.25,577.53H113.75M108.25,553.23H113.75M108.25,528.94H113.75M102.75,504.64H113.75M108.25,480.34H113.75M108.25,456.05H113.75M108.25,431.75H113.75M108.25,407.45H113.75M102.75,383.15H113.75M108.25,358.86H113.75M108.25,334.56H113.75M108.25,310.26H113.75M108.25,285.97H113.75M102.75,261.67H113.75M108.25,237.37H113.75M108.25,213.08H113.75M108.25,188.78H113.75M108.25,164.48H113.75M102.75,140.19H113.75M108.25,115.89H113.75M108.25,91.59H113.75M108.25,67.29H113.75M108.25,43.00H113.75M102.75,18.70H113.75M887.21,747.61H898.21M887.21,723.31H892.71M887.21,699.02H892.71M887.21,674.72H892.71M887.21,650.42H892.71M887.21,626.12H898.21M887.21,601.83H892.71M887.21,577.53H892.71M887.21,553.23H892.71M887.21,528.94H892.71M887.21,504.64H898.21M887.21,480.34H892.71M887.21,456.05H892.71M887.21,431.75H892.71M887.21,407.45H892.71M887.21,383.15H898.21M887.21,358.86H892.71M887.21,334.56H892.71M887.21,310.26H892.71M887.21,285.97H892.71M887.21,261.67H898.21M887.21,237.37H892.71M887.21,213.08H892.71M887.21,188.78H892.71M887.21,164.48H892.71M887.21,140.19H898.21M113.75,747.61V758.61M135.24,747.61V753.11M156.72,747.61V753.11M178.20,747.61V753.11M199.69,747.61V758.61M221.18,747.61V753.11M242.66,747.61V753.11M264.14,747.61V753.11M285.63,747.61V758.61M307.12,747.61V753.11M328.60,747.61V753.11M350.09,747.61V753.11M371.57,747.61V758.61M393.06,747.61V753.11M414.54,747.61V753.11M436.03,747.61V753.11M457.51,747.61V758.61M479.00,747.61V753.11M500.48,747.61V753.11M521.97,747.61V753.11M543.45,747.61V758.61M564.93,747.61V753.11M586.42,747.61V753.11M607.90,747.61V753.11M629.39,747.61V758.61M650.88,747.61V753.11M672.36,747.61V753.11M693.85,747.61V753.11M715.33,747.61V758.61M736.82,747.61V753.11M758.30,747.61V753.11M779.79,747.61V753.11M801.27,747.61V758.61M822.75,747.61V753.11M844.24,747.61V753.11M865.73,747.61V753.11M887.21,747.61V758.61" stroke="#111" stroke-width="1.6" fill="none"/>
<path d="M113.75,834.70H887.21M113.75,834.70V845.30M135.24,834.70V839.30M156.72,834.70V839.30M178.20,834.70V839.30M199.69,834.70V845.30M221.18,834.70V839.30M242.66,834.70V839.30M264.14,834.70V839.30M285.63,834.70V845.30M307.12,834.70V839.30M328.60,834.70V839.30M350.09,834.70V839.30M371.57,834.70V845.30M393.06,834.70V839.30M414.54,834.70V839.30M436.03,834.70V839.30M457.51,834.70V845.30M479.00,834.70V839.30M500.48,834.70V839.30M521.97,834.70V839.30M543.45,834.70V845.30M564.93,834.70V839.30M586.42,834.70V839.30M607.90,834.70V839.30M629.39,834.70V845.30M650.88,834.70V839.30M672.36,834.70V839.30M693.85,834.70V839.30M715.33,834.70V845.30M736.82,834.70V839.30M758.30,834.70V839.30M779.79,834.70V839.30M801.27,834.70V845.30M822.75,834.70V839.30M844.24,834.70V839.30M865.73,834.70V839.30M887.21,834.70V845.30" stroke="#222" stroke-width="1.7" fill="none"/>
<text x="91" y="755.21" font-size="18" text-anchor="end" textLength="28.5" lengthAdjust="spacingAndGlyphs">100</text>
<text x="91" y="633.73" font-size="18" text-anchor="end" textLength="28.5" lengthAdjust="spacingAndGlyphs">150</text>
<text x="91" y="512.24" font-size="18" text-anchor="end" textLength="28.5" lengthAdjust="spacingAndGlyphs">200</text>
<text x="91" y="390.75" font-size="18" text-anchor="end" textLength="28.5" lengthAdjust="spacingAndGlyphs">250</text>
<text x="91" y="269.27" font-size="18" text-anchor="end" textLength="28.5" lengthAdjust="spacingAndGlyphs">300</text>
<text x="91" y="147.78" font-size="18" text-anchor="end" textLength="28.5" lengthAdjust="spacingAndGlyphs">350</text>
<text x="91" y="26.30" font-size="18" text-anchor="end" textLength="28.5" lengthAdjust="spacingAndGlyphs">400</text>
<text x="901.9" y="148.19" font-size="18" textLength="37.3" lengthAdjust="spacingAndGlyphs">1148</text>
<text x="901.9" y="269.67" font-size="18" textLength="28.5" lengthAdjust="spacingAndGlyphs">984</text>
<text x="901.9" y="391.15" font-size="18" textLength="28.5" lengthAdjust="spacingAndGlyphs">820</text>
<text x="901.9" y="512.64" font-size="18" textLength="28.5" lengthAdjust="spacingAndGlyphs">656</text>
<text x="901.9" y="634.12" font-size="18" textLength="28.5" lengthAdjust="spacingAndGlyphs">492</text>
<text x="901.9" y="755.61" font-size="18" textLength="28.5" lengthAdjust="spacingAndGlyphs">328</text>
<text x="111.70" y="781.3" font-size="18" text-anchor="middle">0</text>
<text x="195.05" y="781.3" font-size="18" text-anchor="middle" textLength="28.5" lengthAdjust="spacingAndGlyphs">100</text>
<text x="281.00" y="781.3" font-size="18" text-anchor="middle" textLength="31.3" lengthAdjust="spacingAndGlyphs">200</text>
<text x="366.90" y="781.3" font-size="18" text-anchor="middle" textLength="31.3" lengthAdjust="spacingAndGlyphs">300</text>
<text x="452.60" y="781.3" font-size="18" text-anchor="middle" textLength="31.3" lengthAdjust="spacingAndGlyphs">400</text>
<text x="538.80" y="781.3" font-size="18" text-anchor="middle" textLength="30.4" lengthAdjust="spacingAndGlyphs">500</text>
<text x="625.00" y="781.3" font-size="18" text-anchor="middle" textLength="31.2" lengthAdjust="spacingAndGlyphs">600</text>
<text x="710.80" y="781.3" font-size="18" text-anchor="middle" textLength="31.2" lengthAdjust="spacingAndGlyphs">700</text>
<text x="796.90" y="781.3" font-size="18" text-anchor="middle" textLength="30.5" lengthAdjust="spacingAndGlyphs">800</text>
<text x="882.50" y="781.3" font-size="18" text-anchor="middle" textLength="29.5" lengthAdjust="spacingAndGlyphs">900</text>
<text x="113.0" y="807.2" font-size="18" textLength="72.6" lengthAdjust="spacingAndGlyphs">Q (l/min)</text>
<text x="111.60" y="868.4" font-size="18" text-anchor="middle">0</text>
<text x="195.00" y="868.4" font-size="18" text-anchor="middle" textLength="21.1" lengthAdjust="spacingAndGlyphs">1,7</text>
<text x="281.00" y="868.4" font-size="18" text-anchor="middle" textLength="23.2" lengthAdjust="spacingAndGlyphs">3,3</text>
<text x="360.10" y="868.4" font-size="18" text-anchor="middle">5</text>
<text x="451.80" y="868.4" font-size="18" text-anchor="middle" textLength="22.6" lengthAdjust="spacingAndGlyphs">6,7</text>
<text x="539.20" y="868.4" font-size="18" text-anchor="middle" textLength="24.4" lengthAdjust="spacingAndGlyphs">8,3</text>
<text x="629.50" y="868.4" font-size="18" text-anchor="middle" textLength="19.2" lengthAdjust="spacingAndGlyphs">10</text>
<text x="709.40" y="868.4" font-size="18" text-anchor="middle" textLength="32.2" lengthAdjust="spacingAndGlyphs">11,7</text>
<text x="796.10" y="868.4" font-size="18" text-anchor="middle" textLength="33.4" lengthAdjust="spacingAndGlyphs">13,3</text>
<text x="887.40" y="868.4" font-size="18" text-anchor="middle" textLength="19.2" lengthAdjust="spacingAndGlyphs">15</text>
<text x="113.0" y="894.6" font-size="18" textLength="65.8" lengthAdjust="spacingAndGlyphs">Q (l/sec)</text>
<text transform="translate(34.4,386.7) rotate(-90)" font-size="18" text-anchor="middle" textLength="44" lengthAdjust="spacingAndGlyphs">H (m)</text>
<text transform="translate(975.6,389.1) rotate(-90)" font-size="18" text-anchor="middle" textLength="39.5" lengthAdjust="spacingAndGlyphs">H (ft)</text>
</svg></body></html>
